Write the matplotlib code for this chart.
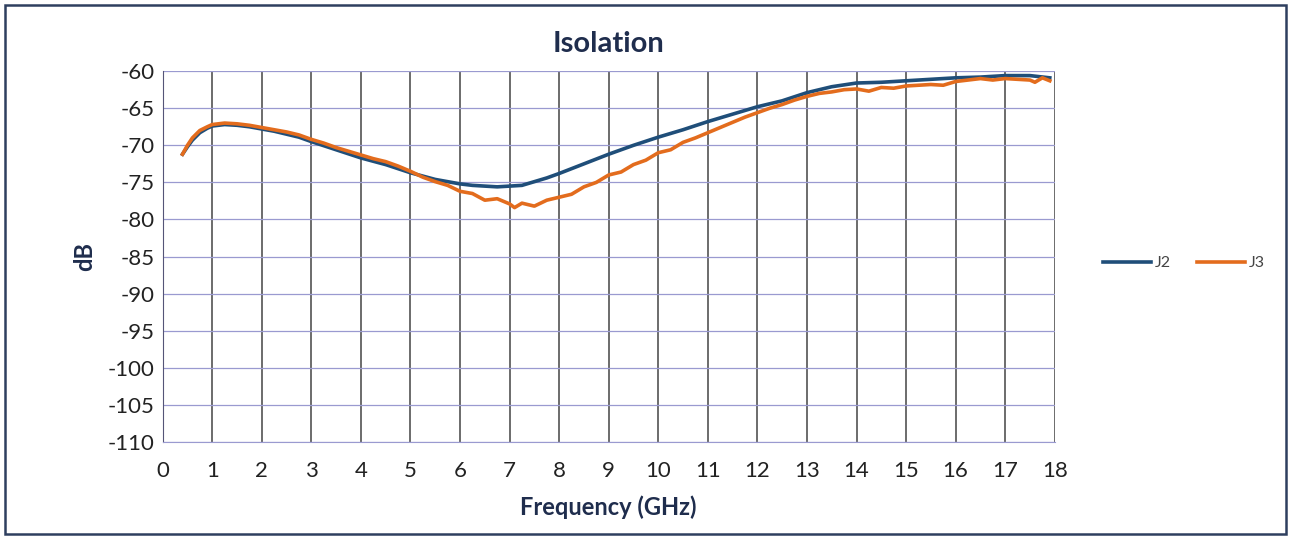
import numpy as np
import matplotlib
matplotlib.use("Agg")
import matplotlib.pyplot as plt
from matplotlib.patches import Rectangle

plt.rcParams['font.family'] = ['Lato', 'DejaVu Sans']
plt.rcParams['axes.unicode_minus'] = False

# frequency (GHz) and isolation (dB)
freq_j2 = [0.4, 0.5, 0.6, 0.75, 0.9, 1.0, 1.25, 1.5, 1.75, 2.0, 2.25, 2.5, 2.75, 3.0,
           3.5, 4.0, 4.5, 5.0, 5.5, 6.0, 6.25, 6.5, 6.75, 7.0, 7.25, 7.5, 7.75, 8.0,
           8.5, 9.0, 9.5, 10.0, 10.5, 11.0, 11.5, 12.0, 12.5, 13.0, 13.5, 14.0,
           14.5, 15.0, 15.5, 16.0, 16.5, 17.0, 17.5, 17.9]
db_j2 = [-71.2, -70.2, -69.3, -68.3, -67.7, -67.4, -67.2, -67.3, -67.5, -67.8, -68.1,
         -68.5, -68.9, -69.5, -70.6, -71.7, -72.6, -73.7, -74.6, -75.2, -75.4, -75.5,
         -75.6, -75.5, -75.4, -74.9, -74.4, -73.8, -72.5, -71.2, -70.0, -68.9, -67.9,
         -66.8, -65.8, -64.8, -64.0, -62.9, -62.1, -61.6, -61.5, -61.3, -61.1, -60.9,
         -60.8, -60.6, -60.6, -60.9]

freq_j3 = [0.4, 0.5, 0.6, 0.75, 0.9, 1.0, 1.25, 1.5, 1.75, 2.0, 2.25, 2.5, 2.75, 3.0,
           3.25, 3.5, 3.75, 4.0, 4.25, 4.5, 4.75, 5.0, 5.25, 5.5, 5.75, 6.0, 6.25,
           6.5, 6.75, 7.0, 7.1, 7.25, 7.5, 7.75, 8.0, 8.25, 8.5, 8.75, 9.0, 9.25,
           9.5, 9.75, 10.0, 10.25, 10.5, 10.75, 11.0, 11.25, 11.5, 11.75, 12.0,
           12.25, 12.5, 12.75, 13.0, 13.25, 13.5, 13.75, 14.0, 14.25, 14.5, 14.75,
           15.0, 15.25, 15.5, 15.75, 16.0, 16.25, 16.5, 16.75, 17.0, 17.25, 17.5,
           17.6, 17.75, 17.9]
db_j3 = [-71.2, -70.0, -69.0, -68.0, -67.5, -67.2, -67.0, -67.1, -67.3, -67.6, -67.9,
         -68.2, -68.6, -69.2, -69.7, -70.3, -70.8, -71.3, -71.8, -72.2, -72.8, -73.5,
         -74.3, -74.9, -75.4, -76.2, -76.5, -77.4, -77.2, -77.9, -78.4, -77.8, -78.2,
         -77.4, -77.0, -76.6, -75.6, -75.0, -74.0, -73.6, -72.6, -72.0, -71.0, -70.6,
         -69.6, -69.0, -68.3, -67.6, -66.9, -66.2, -65.6, -65.0, -64.5, -63.9, -63.4,
         -63.0, -62.8, -62.5, -62.4, -62.7, -62.2, -62.3, -62.0, -61.9, -61.8, -61.9,
         -61.4, -61.2, -61.0, -61.2, -61.0, -61.1, -61.2, -61.5, -60.9, -61.3]

x_ticks = list(range(0, 19))
y_ticks = list(range(-110, -55, 5))

fig = plt.figure(figsize=(12.91, 5.39), dpi=100)
ax = fig.add_axes([0.126, 0.180, 0.691, 0.688])

ax.plot(freq_j2, db_j2, color='#1f4e79', lw=2.6, label='J2')
ax.plot(freq_j3, db_j3, color='#e36c1d', lw=2.6, label='J3')

ax.set_xlim(0, 18)
ax.set_ylim(-110, -60)
ax.set_xticks(x_ticks)
ax.set_yticks(y_ticks)
ax.tick_params(length=0, labelsize=16, pad=14, colors='#222222')
ax.tick_params(axis='y', pad=6)

ax.xaxis.grid(True, color='#444444', lw=1.1)
ax.yaxis.grid(True, color='#9a9ad0', lw=0.9)
ax.set_axisbelow(True)
for s in ax.spines.values():
    s.set_visible(False)
ax.spines['left'].set_visible(True)
ax.spines['left'].set_color('#555577')
ax.spines['bottom'].set_visible(True)
ax.spines['bottom'].set_color('#9a9ad0')

ax.set_title('Isolation', fontsize=21, fontweight='bold', color='#1f2d4d', pad=14)
ax.set_xlabel('Frequency (GHz)', fontsize=17, fontweight='bold', color='#1f2d4d', labelpad=10)
ax.set_ylabel('dB', fontsize=17, fontweight='bold', color='#1f2d4d', labelpad=8)

fig.legend(loc='center left', bbox_to_anchor=(0.846, 0.512), ncol=2, frameon=False,
           fontsize=11.5, handlelength=3.0, columnspacing=1.6, handletextpad=0.25,
           borderpad=0.2, labelcolor='#444444')

fig.patches.append(Rectangle((0.004, 0.01), 0.992, 0.98, transform=fig.transFigure,
                             fill=False, edgecolor='#2e3f5f', lw=1.8))

fig.savefig('out.png', dpi=100, facecolor='white')
